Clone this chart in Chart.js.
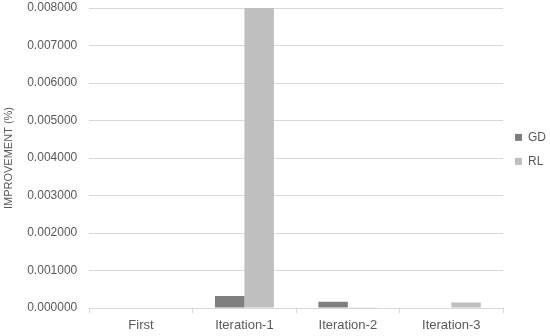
<!DOCTYPE html>
<html><head><meta charset="utf-8">
<script src="https://cdn.jsdelivr.net/npm/chart.js@4"></script>
<style>html,body{margin:0;padding:0;background:#fff}#w{width:550px;height:336px}</style>
</head><body><div id="w"><canvas id="c"></canvas></div>
<script>
const categories = ["First", "Iteration-1", "Iteration-2", "Iteration-3"];
const gdValues = [0, 0.00032, 0.00017, 0];
const rlValues = [0, 0.0080, 0.00002, 0.00015];
const yTicks = [0, 0.001, 0.002, 0.003, 0.004, 0.005, 0.006, 0.007, 0.008];
const FONT = "'Liberation Sans', Arial, sans-serif";
const TXT = "#595959";
new Chart(document.getElementById("c"), {
  type: "bar",
  data: {
    labels: categories,
    datasets: [
      { label: "GD", data: gdValues, backgroundColor: "#7f7f7f", categoryPercentage: 0.57, barPercentage: 1 },
      { label: "RL", data: rlValues, backgroundColor: "#bfbfbf", categoryPercentage: 0.57, barPercentage: 1 }
    ]
  },
  options: {
    responsive: true, maintainAspectRatio: false, animation: false,
    layout: { padding: { top: 0, left: 2, right: -6, bottom: 0 } },
    plugins: {
      tooltip: { enabled: false },
      legend: {
        position: "right",
        align: "start",
        title: { display: true, text: " ", font: { size: 12 }, padding: { top: 105, bottom: 0 } },
        labels: { boxWidth: 7, boxHeight: 7, color: TXT, font: { family: FONT, size: 12 }, padding: 12 }
      }
    },
    scales: {
      x: {
        afterFit: (s) => { s.height = 28; },
        grid: { offset: true, drawOnChartArea: false, drawTicks: true, tickLength: 5, color: "#d9d9d9" },
        border: { display: true, color: "#d9d9d9" },
        ticks: { color: TXT, font: { family: FONT, size: 13 }, padding: 5 }
      },
      y: {
        min: 0, max: 0.008,
        afterBuildTicks: (s) => { s.ticks = yTicks.map(v => ({ value: v })); },
        afterFit: (s) => { s.paddingTop = 8; s.paddingBottom = 0; },
        grid: { color: "#d9d9d9", drawTicks: false },
        border: { display: false },
        ticks: { color: TXT, font: { family: FONT, size: 12 }, padding: 12, callback: (v) => Number(v).toFixed(6) },
        title: { display: true, text: "IMPROVEMENT (%)", color: TXT, font: { family: FONT, size: 11 }, padding: 0 }
      }
    }
  }
});
</script></body></html>
